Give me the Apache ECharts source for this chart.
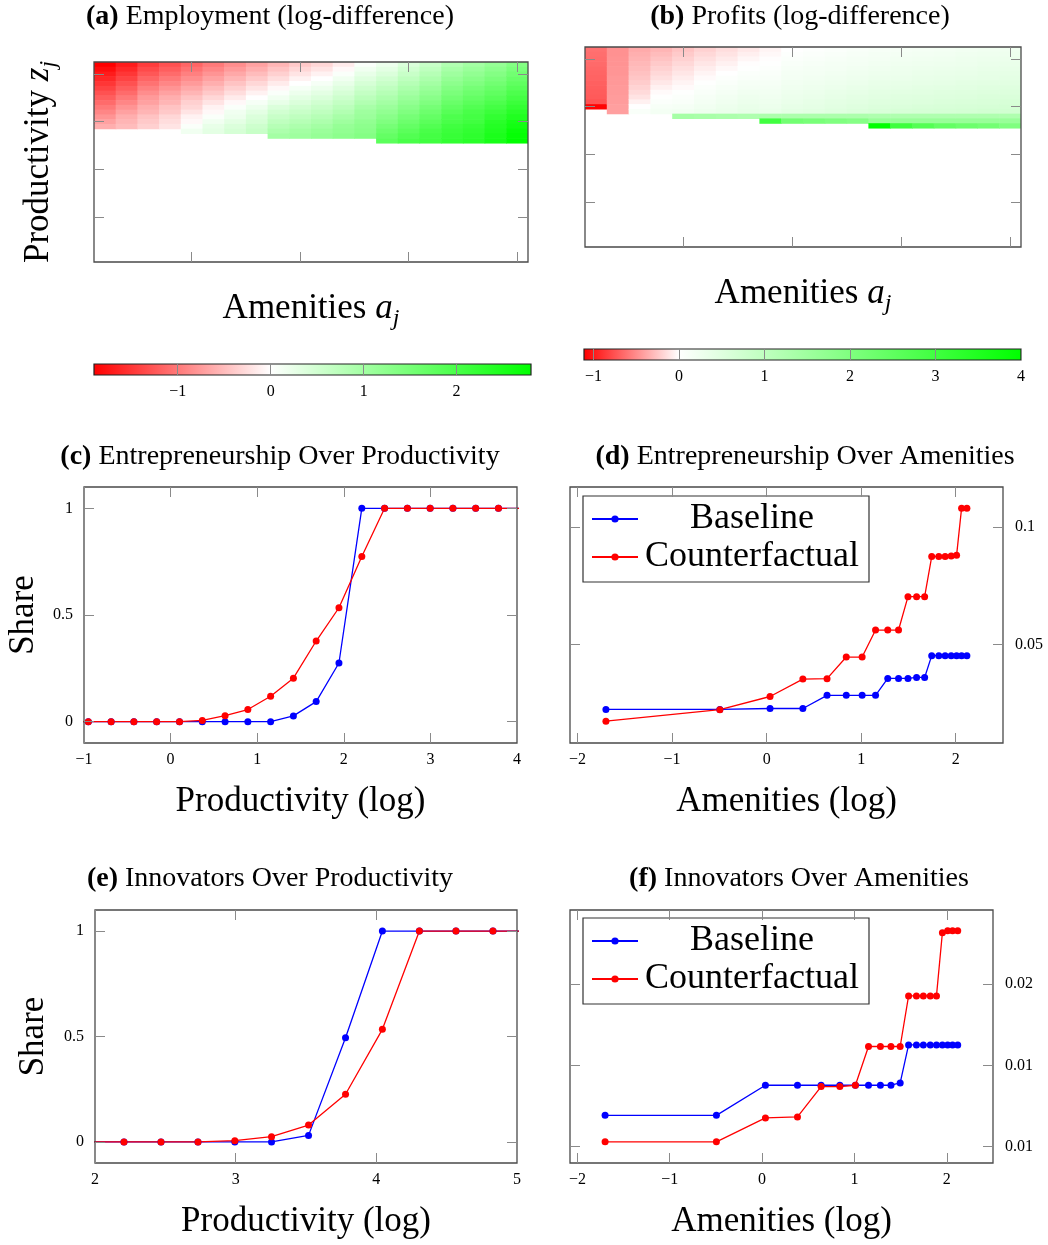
<!DOCTYPE html>
<html>
<head>
<meta charset="utf-8">
<script src="https://cdn.jsdelivr.net/npm/echarts@6/dist/echarts.min.js"></script>
<style>
  html, body { margin: 0; background: #fff; }
  #chart { width: 1048px; height: 1245px; }
</style>
</head>
<body>
<div id="chart"></div>
<script>
// ---- heatmaps: one list per amenity column (left to right), top row first ----
const heatRows = 42;
const heatXTicks = [5, 10, 15, 20];
const heatYTicks = [10, 20, 30, 40];

// (a) employment log-difference
const empRange = [-1.9, 2.8];
const empTicks = [-1, 0, 1, 2];
const empCols = [
  [-1.9, -1.8, -1.7, -1.6, -1.5, -1.4, -1.3, -1.2, -1.1, -1.0, -0.9, -0.8, -0.7, -0.6],
  [-1.7, -1.6, -1.5, -1.4, -1.3, -1.2, -1.1, -1.0, -0.9, -0.8, -0.7, -0.6, -0.55, -0.5],
  [-1.45, -1.35, -1.25, -1.15, -1.05, -0.95, -0.85, -0.75, -0.7, -0.6, -0.55, -0.45, -0.4, -0.35],
  [-1.3, -1.2, -1.1, -1.0, -0.9, -0.8, -0.7, -0.6, -0.55, -0.45, -0.4, -0.3, -0.25, -0.2],
  [-1.15, -1.05, -0.95, -0.85, -0.75, -0.65, -0.55, -0.45, -0.35, -0.3, -0.2, -0.1, -0.05, 0.05, 0.15],
  [-1.0, -0.9, -0.8, -0.7, -0.6, -0.5, -0.4, -0.3, -0.2, -0.1, -0.05, 0.05, 0.15, 0.25, 0.3],
  [-0.85, -0.75, -0.65, -0.55, -0.45, -0.35, -0.25, -0.15, -0.05, 0.05, 0.15, 0.2, 0.3, 0.4, 0.45],
  [-0.7, -0.6, -0.5, -0.4, -0.3, -0.2, -0.1, 0.0, 0.1, 0.2, 0.3, 0.4, 0.45, 0.55, 0.6],
  [-0.55, -0.45, -0.35, -0.25, -0.15, -0.05, 0.05, 0.15, 0.25, 0.4, 0.5, 0.6, 0.7, 0.8, 0.9, 1.0],
  [-0.4, -0.3, -0.2, -0.1, 0.0, 0.1, 0.2, 0.3, 0.4, 0.5, 0.6, 0.7, 0.8, 0.9, 1.0, 1.05],
  [-0.3, -0.2, -0.1, 0.0, 0.1, 0.2, 0.3, 0.4, 0.5, 0.6, 0.7, 0.8, 0.9, 1.0, 1.1, 1.15],
  [-0.15, -0.05, 0.05, 0.15, 0.25, 0.35, 0.45, 0.55, 0.65, 0.75, 0.85, 0.95, 1.05, 1.15, 1.2, 1.25],
  [0.05, 0.15, 0.25, 0.35, 0.45, 0.55, 0.65, 0.75, 0.85, 0.95, 1.05, 1.1, 1.2, 1.25, 1.3, 1.35],
  [0.2, 0.3, 0.4, 0.5, 0.6, 0.7, 0.8, 0.9, 1.0, 1.1, 1.2, 1.3, 1.4, 1.5, 1.6, 1.7, 1.8],
  [0.4, 0.5, 0.6, 0.7, 0.8, 0.9, 1.0, 1.1, 1.2, 1.3, 1.4, 1.5, 1.6, 1.7, 1.8, 1.9, 2.0],
  [0.6, 0.7, 0.8, 0.9, 1.0, 1.1, 1.2, 1.3, 1.4, 1.5, 1.6, 1.7, 1.8, 1.9, 2.0, 2.05, 2.1],
  [0.85, 0.95, 1.05, 1.15, 1.25, 1.35, 1.45, 1.55, 1.65, 1.75, 1.85, 1.95, 2.0, 2.1, 2.15, 2.2, 2.25],
  [1.0, 1.1, 1.2, 1.3, 1.4, 1.5, 1.6, 1.7, 1.8, 1.9, 2.0, 2.05, 2.1, 2.2, 2.25, 2.3, 2.35],
  [1.15, 1.25, 1.35, 1.45, 1.55, 1.65, 1.75, 1.85, 1.95, 2.05, 2.15, 2.25, 2.35, 2.4, 2.45, 2.5, 2.55],
  [1.35, 1.45, 1.55, 1.65, 1.75, 1.85, 1.95, 2.05, 2.15, 2.25, 2.35, 2.45, 2.55, 2.6, 2.7, 2.75, 2.8]
];

// (b) profits log-difference
const profitRange = [-1.11, 4];
const profitTicks = [-1, 0, 1, 2, 3, 4];
const profitCols = [
  [-0.62, -0.63, -0.64, -0.65, -0.66, -0.67, -0.68, -0.69, -0.7, -0.71, -0.72, -0.75, -1.1],
  [-0.48, -0.48, -0.47, -0.47, -0.46, -0.46, -0.45, -0.45, -0.44, -0.44, -0.43, -0.43, -0.42, -0.42],
  [-0.37, -0.35, -0.33, -0.31, -0.29, -0.27, -0.25, -0.22, -0.19, -0.16, -0.12, -0.06, 0.0, 0.1],
  [-0.32, -0.29, -0.26, -0.23, -0.2, -0.17, -0.14, -0.1, -0.06, -0.02, 0.02, 0.06, 0.12, 0.18],
  [-0.26, -0.23, -0.2, -0.17, -0.14, -0.11, -0.08, -0.05, -0.02, 0.02, 0.06, 0.1, 0.15, 0.2, 1.4],
  [-0.2, -0.17, -0.14, -0.11, -0.08, -0.05, -0.02, 0.02, 0.06, 0.1, 0.14, 0.18, 0.22, 0.26, 1.35],
  [-0.15, -0.12, -0.09, -0.06, -0.03, 0.0, 0.04, 0.08, 0.12, 0.16, 0.2, 0.24, 0.28, 0.32, 1.3],
  [-0.1, -0.07, -0.04, -0.01, 0.02, 0.06, 0.1, 0.14, 0.18, 0.22, 0.26, 0.3, 0.34, 0.38, 1.25],
  [-0.05, -0.03, -0.01, 0.02, 0.05, 0.08, 0.11, 0.14, 0.17, 0.2, 0.23, 0.26, 0.3, 0.35, 1.3, 3.0],
  [0.0, 0.03, 0.06, 0.09, 0.12, 0.15, 0.18, 0.21, 0.24, 0.27, 0.3, 0.33, 0.37, 0.42, 1.3, 2.2],
  [0.03, 0.06, 0.09, 0.12, 0.15, 0.18, 0.21, 0.24, 0.27, 0.3, 0.33, 0.37, 0.41, 0.46, 1.3, 2.1],
  [0.06, 0.09, 0.12, 0.15, 0.18, 0.21, 0.24, 0.27, 0.3, 0.34, 0.38, 0.42, 0.46, 0.5, 1.3, 2.0],
  [0.09, 0.12, 0.15, 0.18, 0.21, 0.24, 0.27, 0.3, 0.34, 0.38, 0.42, 0.46, 0.5, 0.55, 1.3, 1.9],
  [0.12, 0.15, 0.18, 0.21, 0.24, 0.27, 0.3, 0.34, 0.38, 0.42, 0.46, 0.5, 0.55, 0.6, 1.25, 1.6, 4.0],
  [0.14, 0.17, 0.2, 0.23, 0.26, 0.29, 0.32, 0.36, 0.4, 0.44, 0.48, 0.52, 0.57, 0.62, 1.25, 1.6, 3.05],
  [0.16, 0.19, 0.22, 0.25, 0.28, 0.31, 0.34, 0.38, 0.42, 0.46, 0.5, 0.54, 0.59, 0.64, 1.25, 1.6, 2.7],
  [0.18, 0.21, 0.24, 0.27, 0.3, 0.33, 0.36, 0.4, 0.44, 0.48, 0.52, 0.56, 0.61, 0.66, 1.25, 1.6, 2.45],
  [0.2, 0.23, 0.26, 0.29, 0.32, 0.35, 0.38, 0.42, 0.46, 0.5, 0.54, 0.58, 0.63, 0.68, 1.25, 1.6, 2.3],
  [0.22, 0.25, 0.28, 0.31, 0.34, 0.37, 0.4, 0.44, 0.48, 0.52, 0.56, 0.6, 0.65, 0.7, 1.25, 1.6, 2.2],
  [0.24, 0.27, 0.3, 0.33, 0.36, 0.39, 0.42, 0.46, 0.5, 0.54, 0.58, 0.62, 0.67, 0.72, 1.25, 1.6, 2.0]
];

// ---- (c) entrepreneurship over productivity ----
const entProdX = [-1.213, -0.95, -0.687, -0.424, -0.161, 0.103, 0.366, 0.629, 0.892, 1.155, 1.418,
  1.681, 1.944, 2.208, 2.471, 2.734, 2.997, 3.26, 3.523, 3.786, 4.05];
const entProdBase = [0, 0, 0, 0, 0, 0, 0, 0, 0, 0, 0.027, 0.094, 0.275, 1, 1, 1, 1, 1, 1, 1, 1];
const entProdCf = [0, 0, 0, 0, 0, 0, 0.006, 0.028, 0.057, 0.119, 0.204, 0.378, 0.534, 0.774, 1, 1, 1, 1, 1, 1, 1];
const prodXTicks = [-1, 0, 1, 2, 3, 4];
const shareTicks = [0, 0.5, 1];

// ---- (d) entrepreneurship over amenities ----
const amenX = [-1.70, -0.495, 0.036, 0.383, 0.639, 0.842, 1.01, 1.152, 1.281, 1.395, 1.495, 1.586,
  1.671, 1.746, 1.821, 1.888, 1.952, 2.009, 2.062, 2.118];
const entAmenBase = [0.0223, 0.0223, 0.0227, 0.0227, 0.0283, 0.0283, 0.0283, 0.0283, 0.0355, 0.0355,
  0.0355, 0.0359, 0.0359, 0.0452, 0.0452, 0.0452, 0.0452, 0.0452, 0.0452, 0.0452];
const entAmenCf = [0.0173, 0.0222, 0.0278, 0.0352, 0.0354, 0.0446, 0.0446, 0.0561, 0.0561, 0.0561,
  0.0703, 0.0703, 0.0703, 0.0874, 0.0874, 0.0874, 0.0876, 0.0879, 0.108, 0.108];
const amenXTicks = [-2, -1, 0, 1, 2];
const entAmenTicks = [0.05, 0.1];

// ---- (e) innovators over productivity ----
const innProdX = [1.943, 2.206, 2.469, 2.732, 2.994, 3.255, 3.518, 3.781, 4.043, 4.306, 4.566, 4.829, 5.09];
const innProdBase = [0, 0, 0, 0, 0, 0, 0.031, 0.494, 1, 1, 1, 1, 1];
const innProdCf = [0, 0, 0, 0, 0.006, 0.025, 0.08, 0.226, 0.534, 1, 1, 1, 1];
const innProdXTicks = [2, 3, 4, 5];

// ---- (f) innovators over amenities ----
const innAmenBase = [0.01193, 0.01193, 0.01378, 0.01378, 0.01378, 0.01378, 0.01378, 0.01378, 0.01378, 0.01378,
  0.01392, 0.01626, 0.01626, 0.01626, 0.01626, 0.01626, 0.01626, 0.01626, 0.01626, 0.01626];
const innAmenCf = [0.0103, 0.0103, 0.01177, 0.01183, 0.0137, 0.0137, 0.01378, 0.01616, 0.01616, 0.01616,
  0.01616, 0.01927, 0.01927, 0.01927, 0.01927, 0.01927, 0.02315, 0.02327, 0.02327, 0.02327];
const innAmenTicks = [0.01, 0.015, 0.02];
const innAmenTickLabels = ['0.01', '0.01', '0.02'];

const FONT = '"Liberation Serif", "DejaVu Serif", serif';
const FRAME = '#4a4a4a';
const TICK = '#8a8a8a';
const BLUE = '#0000ff';
const RED = '#ff0000';
const NAME_SIZE = 35;

const chart = echarts.init(document.getElementById('chart'));

const fmtMinus = v => String(v).replace('-', '\u2212');

function cmap(v, lo, hi) {
  if (v < 0) {
    const g = Math.round(255 * (1 - Math.min(v / lo, 1)));
    return 'rgb(255,' + g + ',' + g + ')';
  }
  const r = Math.round(255 * (1 - Math.min(v / hi, 1)));
  return 'rgb(' + r + ',255,' + r + ')';
}

function heatData(cols) {
  const out = [];
  cols.forEach((col, c) => col.forEach((v, k) => out.push([c + 1, heatRows - k, v])));
  return out;
}

const zip = (xs, ys) => xs.map((x, i) => [x, ys[i]]);

const nameStyle = {
  fontFamily: FONT, fontSize: NAME_SIZE, color: '#000', lineHeight: 44,
  rich: {
    i: { fontFamily: FONT, fontSize: NAME_SIZE, fontStyle: 'italic', lineHeight: 44 },
    s: { fontFamily: FONT, fontSize: 24, fontStyle: 'italic', lineHeight: 22, verticalAlign: 'bottom' }
  }
};

const grids = [];
const xAxes = [];
const yAxes = [];
const series = [];

function tick(vals, len) {
  return { inside: true, length: len || 10, customValues: vals, lineStyle: { color: TICK, width: 1 } };
}
function label(vals, fmt, margin) {
  return { customValues: vals, formatter: fmt || fmtMinus, fontFamily: FONT, fontSize: 16, color: '#000', margin: margin || 10 };
}

// one framed panel with mirrored ticks on all four sides
function panel(box, o) {
  const gi = grids.length;
  grids.push({ left: box[0], top: box[1], width: box[2], height: box[3], show: true,
    borderColor: FRAME, borderWidth: 1.3, backgroundColor: 'transparent', z: 5 });
  const xi = xAxes.length, yi = yAxes.length;
  const base = { gridIndex: gi, type: 'value', z: 5, axisLine: { show: false, onZero: false }, splitLine: { show: false } };
  xAxes.push(Object.assign({}, base, {
    min: o.x[0], max: o.x[1], position: 'bottom', axisTick: tick(o.xt),
    axisLabel: o.xLabels ? label(o.xt, null, 9) : { show: false },
    name: o.xName, nameLocation: 'middle', nameGap: o.xGap, nameTextStyle: nameStyle
  }));
  xAxes.push(Object.assign({}, base, {
    min: o.x[0], max: o.x[1], position: 'top', axisTick: tick(o.xt), axisLabel: { show: false }
  }));
  yAxes.push(Object.assign({}, base, {
    min: o.y[0], max: o.y[1], position: 'left', axisTick: tick(o.yt),
    axisLabel: o.yLabels === 'left' ? label(o.yt, o.yFmt, 11) : { show: false },
    name: o.yName, nameLocation: 'middle', nameGap: o.yGap, nameRotate: 90, nameTextStyle: nameStyle
  }));
  yAxes.push(Object.assign({}, base, {
    min: o.y[0], max: o.y[1], position: 'right', axisTick: tick(o.yt),
    axisLabel: o.yLabels === 'right' ? label(o.yt, o.yFmt, 12) : { show: false }
  }));
  return { xi, yi };
}

function heatPanel(box, cols, range, o) {
  const ax = panel(box, Object.assign({ x: [0.5, 20.5], y: [0.5, heatRows + 0.5], xt: heatXTicks, yt: heatYTicks }, o));
  series.push({
    type: 'custom', xAxisIndex: ax.xi, yAxisIndex: ax.yi, clip: true, z: 2,
    data: heatData(cols),
    renderItem: (params, api) => {
      const p0 = api.coord([api.value(0) - 0.5, api.value(1) + 0.5]);
      const p1 = api.coord([api.value(0) + 0.5, api.value(1) - 0.5]);
      return { type: 'rect',
        shape: { x: p0[0], y: p0[1], width: p1[0] - p0[0] + 0.6, height: p1[1] - p0[1] + 0.6 },
        style: { fill: cmap(api.value(2), range[0], range[1]) } };
    }
  });
}

function colorBar(box, range, ticks) {
  const gi = grids.length;
  grids.push({ left: box[0], top: box[1], width: box[2], height: box[3], show: true,
    borderColor: '#222', borderWidth: 1.2, backgroundColor: 'transparent', z: 5 });
  const xi = xAxes.length, yi = yAxes.length;
  xAxes.push({ gridIndex: gi, type: 'value', min: range[0], max: range[1], z: 5,
    axisLine: { show: false, onZero: false }, splitLine: { show: false }, axisTick: tick(ticks, box[3]),
    axisLabel: label(ticks, null, 9) });
  yAxes.push({ gridIndex: gi, type: 'value', min: 0, max: 1, show: false });
  const mid = (0 - range[0]) / (range[1] - range[0]);
  series.push({
    type: 'custom', xAxisIndex: xi, yAxisIndex: yi, clip: false, z: 2,
    data: [range],
    renderItem: (params, api) => {
      const a = api.coord([api.value(0), 0]);
      const b = api.coord([api.value(1), 1]);
      return { type: 'rect',
        shape: { x: a[0], y: b[1], width: b[0] - a[0], height: a[1] - b[1] },
        style: { fill: new echarts.graphic.LinearGradient(0, 0, 1, 0, [
          { offset: 0, color: RED }, { offset: mid, color: '#ffffff' }, { offset: 1, color: '#00ff00' }]) } };
    }
  });
}

function linePanel(box, o, xs, base, cf) {
  const ax = panel(box, o);
  const common = { type: 'line', xAxisIndex: ax.xi, yAxisIndex: ax.yi, symbol: 'circle', symbolSize: 7,
    clip: true, z: 3, animation: false };
  series.push(Object.assign({ name: 'Baseline', data: zip(xs, base), color: BLUE,
    itemStyle: { color: BLUE }, lineStyle: { color: BLUE, width: 1.3 } }, common));
  series.push(Object.assign({ name: 'Counterfactual', data: zip(xs, cf), color: RED,
    itemStyle: { color: RED }, lineStyle: { color: RED, width: 1.3 } }, common));
}

// (a) and (b)
heatPanel([94, 62, 434, 200], empCols, empRange,
  { xName: 'Amenities {i|a}{s|j}', xGap: 25, yName: 'Productivity {i|z}{s|j}', yGap: 33 });
heatPanel([585, 47, 436, 200], profitCols, profitRange,
  { xName: 'Amenities {i|a}{s|j}', xGap: 25 });
colorBar([94, 364, 437, 11], empRange, empTicks);
colorBar([584, 349, 437, 11], profitRange, profitTicks);

// (c) - (f)
linePanel([84, 487, 433, 256], { x: [-1, 4], y: [-0.1, 1.1], xt: prodXTicks, yt: shareTicks,
  xLabels: true, yLabels: 'left', xName: 'Productivity (log)', xGap: 37, yName: 'Share', yGap: 38 },
  entProdX, entProdBase, entProdCf);
linePanel([570, 487, 433, 256], { x: [-2.08, 2.5], y: [0.008, 0.117], xt: amenXTicks, yt: entAmenTicks,
  xLabels: true, yLabels: 'right', xName: 'Amenities (log)', xGap: 37 },
  amenX, entAmenBase, entAmenCf);
linePanel([95, 910, 422, 255], { x: [2, 5], y: [-0.1, 1.1], xt: innProdXTicks, yt: shareTicks,
  xLabels: true, yLabels: 'left', xName: 'Productivity (log)', xGap: 37, yName: 'Share', yGap: 39 },
  innProdX, innProdBase, innProdCf);
linePanel([570, 910, 423, 255], { x: [-2.08, 2.5], y: [0.009, 0.02455], xt: amenXTicks, yt: innAmenTicks,
  xLabels: true, yLabels: 'right', xName: 'Amenities (log)', xGap: 37,
  yFmt: v => {
    let best = 0;
    innAmenTicks.forEach((t, i) => { if (Math.abs(t - v) < Math.abs(innAmenTicks[best] - v)) best = i; });
    return innAmenTickLabels[best];
  } },
  amenX, innAmenBase, innAmenCf);

function legendAt(left, top) {
  return {
    data: ['Baseline', 'Counterfactual'], orient: 'vertical', left: left, top: top,
    padding: [5, 8, 7, 8], itemGap: 2, itemWidth: 46, itemHeight: 9,
    borderColor: '#333', borderWidth: 1.2, backgroundColor: '#fff', selectedMode: false,
    formatter: name => '{t|' + name + '}',
    textStyle: { fontFamily: FONT, fontSize: 36, color: '#000',
      rich: { t: { fontFamily: FONT, fontSize: 36, lineHeight: 36, width: 218, align: 'center' } } }
  };
}

const titles = [
  ['(a)', 'Employment (log-difference)', 270, 17],
  ['(b)', 'Profits (log-difference)', 800, 17],
  ['(c)', 'Entrepreneurship Over Productivity', 280, 457],
  ['(d)', 'Entrepreneurship Over Amenities', 805, 457],
  ['(e)', 'Innovators Over Productivity', 270, 879],
  ['(f)', 'Innovators Over Amenities', 799, 879]
];

chart.setOption({
  animation: false,
  backgroundColor: '#fff',
  grid: grids,
  xAxis: xAxes,
  yAxis: yAxes,
  legend: [legendAt(583, 496), legendAt(583, 918)],
  graphic: titles.map(t => ({
    type: 'text', x: t[2], y: t[3],
    style: {
      text: '{b|' + t[0] + '} ' + t[1], align: 'center', verticalAlign: 'middle',
      fontFamily: FONT, fontSize: 28, fill: '#000',
      rich: { b: { fontFamily: FONT, fontSize: 28, fontWeight: 'bold' } }
    }
  })),
  series: series
});
</script>
</body>
</html>
